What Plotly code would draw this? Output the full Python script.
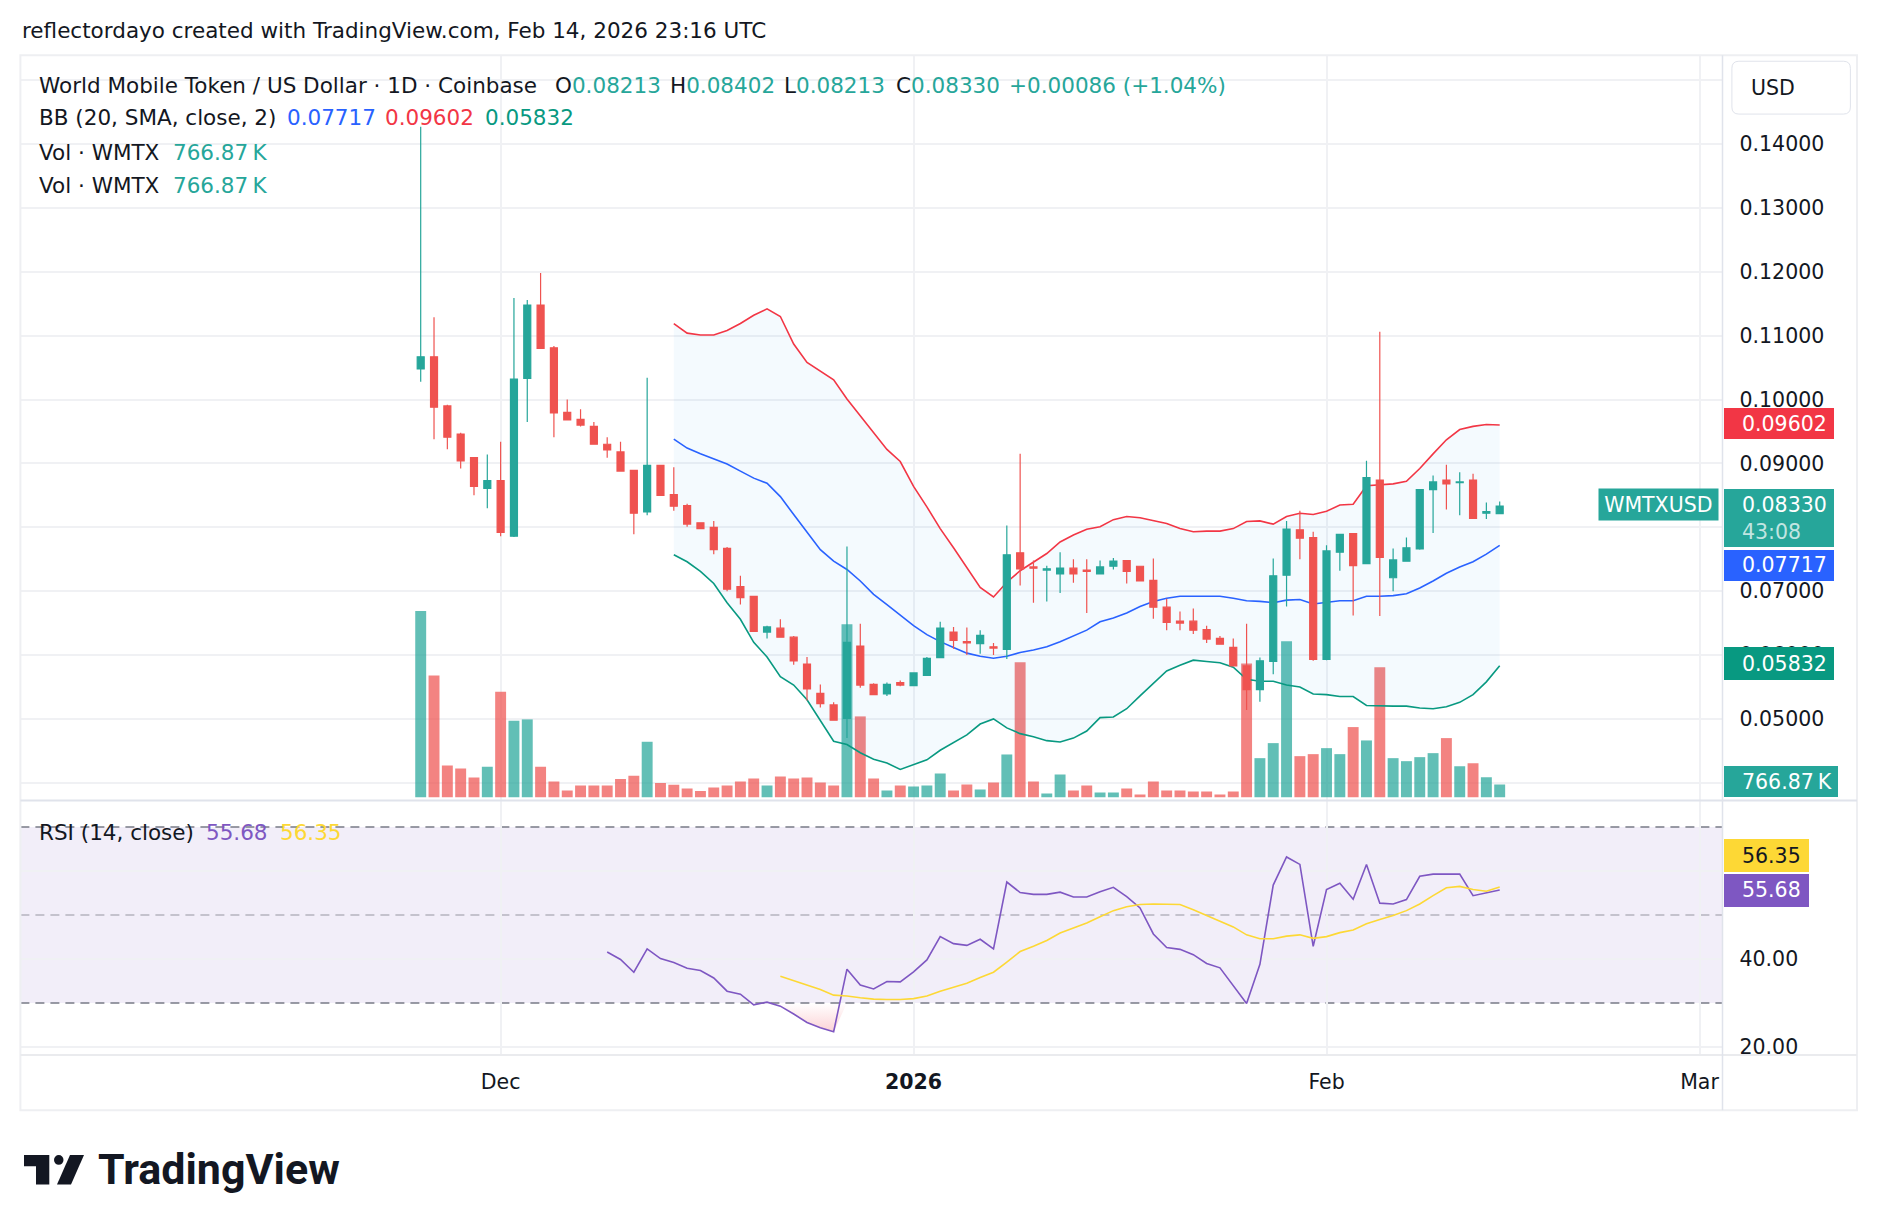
import plotly.graph_objects as go
import pandas as pd

# ---------------- data ----------------
dates = pd.date_range("2025-11-25", "2026-02-14", freq="D")

opens = [
    0.1048, 0.1067, 0.0990, 0.0946, 0.0909, 0.0861,
    0.0873, 0.0786, 0.1033, 0.1148, 0.1081, 0.0980, 0.0969, 0.0958, 0.0930, 0.0918,
    0.0889, 0.0824, 0.0897, 0.0851, 0.0834, 0.0807, 0.0800, 0.0767, 0.0707, 0.0692,
    0.0636, 0.0642, 0.0628, 0.0586, 0.0540, 0.0522, 0.0501, 0.0614, 0.0554, 0.0539, 0.0557,
    0.0552, 0.0568, 0.0596, 0.0636, 0.0621, 0.0618, 0.0613, 0.0609, 0.0760, 0.0738,
    0.0733, 0.0727, 0.0736, 0.0733, 0.0727, 0.0739, 0.0748, 0.0739, 0.0717, 0.0675,
    0.0653, 0.0653, 0.0640, 0.0626, 0.0612, 0.0583, 0.0546, 0.0590, 0.0725, 0.0796, 0.0784,
    0.0593, 0.0761, 0.0790, 0.0743, 0.0874, 0.0721, 0.0747, 0.0766, 0.0859, 0.0874,
    0.0870, 0.0874, 0.0822, 0.08213]
highs = [
    0.1427, 0.1129, 0.0992, 0.0948, 0.0909, 0.0914,
    0.0934, 0.1159, 0.1156, 0.1198, 0.1084, 0.1000, 0.0985, 0.0965, 0.0941, 0.0934,
    0.0889, 0.1034, 0.0897, 0.0894, 0.0837, 0.0808, 0.0810, 0.0769, 0.0724, 0.0692,
    0.0646, 0.0656, 0.0630, 0.0597, 0.0554, 0.0526, 0.0770, 0.0649, 0.0556, 0.0557, 0.0560,
    0.0573, 0.0597, 0.0652, 0.0644, 0.0643, 0.0639, 0.0619, 0.0803, 0.0915, 0.0748,
    0.0740, 0.0761, 0.0750, 0.0750, 0.0748, 0.0752, 0.0748, 0.0739, 0.0751, 0.0688,
    0.0668, 0.0673, 0.0646, 0.0630, 0.0626, 0.0649, 0.0596, 0.0751, 0.0810, 0.0826, 0.0793,
    0.0772, 0.0790, 0.0790, 0.0904, 0.1106, 0.0767, 0.0784, 0.0860, 0.0881, 0.0898,
    0.0886, 0.0884, 0.0839, 0.08402]
lows = [
    0.1028, 0.0938, 0.0922, 0.0892, 0.0850, 0.0830,
    0.0786, 0.0785, 0.0965, 0.1080, 0.0941, 0.0968, 0.0958, 0.0930, 0.0909, 0.0888,
    0.0789, 0.0819, 0.0850, 0.0826, 0.0801, 0.0798, 0.0758, 0.0700, 0.0679, 0.0637,
    0.0626, 0.0628, 0.0585, 0.0529, 0.0518, 0.0498, 0.0470, 0.0549, 0.0538, 0.0536, 0.0551,
    0.0552, 0.0568, 0.0596, 0.0610, 0.0600, 0.0602, 0.0600, 0.0594, 0.0709, 0.0682,
    0.0684, 0.0697, 0.0713, 0.0666, 0.0726, 0.0734, 0.0712, 0.0716, 0.0657, 0.0639,
    0.0639, 0.0633, 0.0619, 0.0616, 0.0583, 0.0514, 0.0527, 0.0570, 0.0676, 0.0750, 0.0591,
    0.0592, 0.0732, 0.0662, 0.0742, 0.0661, 0.0700, 0.0747, 0.0765, 0.0791, 0.0828,
    0.0819, 0.0814, 0.0813, 0.08213]
closes = [
    0.1067, 0.0988, 0.0941, 0.0904, 0.0864, 0.0873,
    0.0792, 0.1032, 0.1148, 0.1080, 0.0979, 0.0968, 0.0960, 0.0930, 0.0921, 0.0888,
    0.0822, 0.0897, 0.0850, 0.0833, 0.0805, 0.0798, 0.0765, 0.0703, 0.0690, 0.0637,
    0.0644, 0.0628, 0.0591, 0.0547, 0.0524, 0.0498, 0.0620, 0.0553, 0.0538, 0.0554, 0.0553,
    0.0572, 0.0595, 0.0642, 0.0623, 0.0619, 0.0631, 0.0611, 0.0757, 0.0735, 0.0736,
    0.0735, 0.0736, 0.0727, 0.0731, 0.0738, 0.0747, 0.0731, 0.0716, 0.0675, 0.0651,
    0.0650, 0.0639, 0.0625, 0.0617, 0.0583, 0.0546, 0.0591, 0.0724, 0.0797, 0.0783, 0.0593,
    0.0763, 0.0789, 0.0740, 0.0878, 0.0753, 0.0749, 0.0768, 0.0859, 0.0871, 0.0868,
    0.0871, 0.0814, 0.08244, 0.08330]
volumes_k = [
    11216, 7333, 1914, 1726, 1186, 1833,
    6363, 4610, 4691, 1833, 944, 404, 701, 701, 701, 1105,
    1294, 3343, 863, 755, 530, 370, 584, 705, 946, 1127,
    705, 1248, 1127, 1188, 886, 705, 10427, 4871, 1127, 403, 705,
    644, 705, 1429, 403, 765, 463, 886, 2577, 8133, 946,
    221, 1369, 403, 705, 282, 282, 523, 161, 946, 403,
    403, 342, 342, 161, 342, 8052, 2355, 3261, 9401, 2476, 2597,
    2959, 2597, 4227, 3422, 7831, 2355, 2174, 2416, 2657, 3563,
    1872, 2053, 1208, 766.87]

bb_dates = pd.date_range("2025-12-14", "2026-02-14", freq="D")
bb_upper = [
    0.1119, 0.1104, 0.1101, 0.1101, 0.1108, 0.1119, 0.1132, 0.1142, 0.1130, 0.1087,
    0.1058, 0.1045, 0.1031, 0.1001, 0.0975, 0.0949, 0.0922, 0.0903,
    0.0864, 0.0832, 0.0798, 0.0768, 0.0737, 0.0706, 0.0691, 0.0714, 0.0732, 0.0746,
    0.0759, 0.0777, 0.0788, 0.0797, 0.0801, 0.0812, 0.0817, 0.0815, 0.0811, 0.0806,
    0.0798, 0.0793, 0.0794, 0.0794, 0.0798, 0.0809, 0.0810, 0.0805, 0.0817, 0.0822, 0.0820,
    0.0825, 0.0835, 0.0836, 0.0865, 0.0866, 0.0868, 0.0872, 0.0892, 0.0915, 0.0937,
    0.0953, 0.0958, 0.0961, 0.09602]
bb_basis = [
    0.0938, 0.0924, 0.0915, 0.0907, 0.0899, 0.0888, 0.0877, 0.0869, 0.0848, 0.0820,
    0.0792, 0.0765, 0.0747, 0.0734, 0.0716, 0.0695, 0.0679, 0.0662,
    0.0646, 0.0632, 0.0621, 0.0612, 0.0603, 0.0598, 0.0595, 0.0598, 0.0604, 0.0608,
    0.0613, 0.0621, 0.0630, 0.0639, 0.0652, 0.0658, 0.0666, 0.0676, 0.0684, 0.0689,
    0.0692, 0.0692, 0.0692, 0.0692, 0.0689, 0.0685, 0.0684, 0.0682, 0.0686, 0.0687, 0.0680,
    0.0683, 0.0685, 0.0685, 0.0692, 0.0692, 0.0693, 0.0696, 0.0705, 0.0716, 0.0728,
    0.0738, 0.0746, 0.0758, 0.07717]
bb_lower = [
    0.0757, 0.0746, 0.0731, 0.0712, 0.0682, 0.0656, 0.0620, 0.0597, 0.0566, 0.0553,
    0.0530, 0.0498, 0.0465, 0.0460, 0.0447, 0.0437, 0.0431, 0.0421,
    0.0428, 0.0436, 0.0451, 0.0463, 0.0475, 0.0492, 0.0500, 0.0486, 0.0477, 0.0472,
    0.0466, 0.0464, 0.0470, 0.0481, 0.0502, 0.0503, 0.0516, 0.0536, 0.0555, 0.0575,
    0.0584, 0.0592, 0.0590, 0.0588, 0.0581, 0.0562, 0.0559, 0.0559, 0.0553, 0.0550, 0.0539,
    0.0538, 0.0535, 0.0535, 0.0521, 0.0520, 0.0520, 0.0520, 0.0517, 0.0516, 0.0519,
    0.0526, 0.0538, 0.0558, 0.05832]

rsi_dates = pd.date_range("2025-12-09", "2026-02-14", freq="D")
rsi = [
    41.6, 39.9, 37.0, 42.3, 40.1, 39.2, 37.9, 37.4, 35.7, 32.7, 32.0, 29.6,
    30.2, 29.3, 27.5, 25.6, 24.4, 23.5, 37.7, 34.1, 33.2, 34.9, 34.8,
    37.1, 39.8, 45.1, 43.5, 43.1, 44.5, 42.3, 57.5, 55.1, 54.7,
    54.7, 55.2, 54.1, 54.1, 55.3, 56.3, 54.2, 51.6, 45.7, 42.6,
    42.2, 41.0, 39.0, 38.0, 33.9, 29.9, 38.8, 56.8, 63.2, 61.5, 42.9,
    55.8, 57.2, 53.6, 61.5, 52.7, 52.5, 53.5, 58.8, 59.3, 59.3,
    59.3, 54.4, 55.0, 55.68]
rsi_ma_dates = pd.date_range("2025-12-22", "2026-02-14", freq="D")
rsi_ma = [
    36.1, 35.1, 34.1, 33.1, 31.8, 31.6, 31.2, 30.9, 30.8, 30.8,
    31.0, 31.6, 32.7, 33.6, 34.5, 35.8, 37.0, 39.3, 41.7, 42.9,
    44.2, 45.9, 47.0, 48.2, 49.6, 51.0, 51.9, 52.4, 52.5, 52.4,
    52.4, 51.2, 49.9, 48.7, 47.3, 45.5, 44.6, 44.6, 45.2, 45.5, 44.7,
    45.1, 46.0, 46.6, 48.0, 49.0, 49.9, 51.0, 52.5, 54.4, 56.2,
    56.5, 55.8, 55.4, 56.35]

tick_dates = ["2025-12-01", "2026-01-01", "2026-02-01", "2026-03-01"]
tick_text = ["Dec", "<b>2026</b>", "Feb", "Mar"]
price_ticks = [0.04, 0.05, 0.06, 0.07, 0.08, 0.09, 0.10, 0.11, 0.12, 0.13, 0.14, 0.15]
rsi_ticks = [20, 40, 60]
rsi_tick_text = ["20.00", "40.00", ""]

# ---------------- layout geometry (pixels of the 1878x1228 frame) ----------------
W, H = 1878, 1228
FIG_H = 1235            # page viewport appears slightly taller than the frame
def fx(x):
    return x / W
def fy(y):
    return 1 - y / H

PLOT_L, PLOT_R, FRAME_R = 20.4, 1722.5, 1857.0
TOP, SEP, RSI_BOT, FRAME_BOT = 55.0, 798.5, 1052.5, 1107.5

PX_PER_PRICE = 6372.0
P_REF, P_REF_PX = 0.14, 143.7
price_hi = P_REF + (P_REF_PX - TOP) / PX_PER_PRICE
price_lo = P_REF - (SEP - P_REF_PX) / PX_PER_PRICE

PX_PER_RSI = 4.39
R_REF, R_REF_PX = 40.0, 956.7
rsi_hi = R_REF + (R_REF_PX - SEP) / PX_PER_RSI
rsi_lo = R_REF - (RSI_BOT - R_REF_PX) / PX_PER_RSI

VOL_PER_PX = 60.4
VOL_BASE_PX = 795.3
vol_lo = -(SEP - VOL_BASE_PX) * VOL_PER_PX
vol_hi = vol_lo + (SEP - TOP) * VOL_PER_PX

DAY_PX = 13.32
DEC1_PX, MAR1_PX = 500.6, 1699.5
x_lo = pd.Timestamp("2025-12-01") - pd.Timedelta(days=(DEC1_PX - PLOT_L) / DAY_PX)
x_hi = pd.Timestamp("2026-03-01") + pd.Timedelta(days=(PLOT_R - MAR1_PX) / DAY_PX)

FONT = "DejaVu Sans"
FS_HEAD = 21.5
FS_AX = 20.5
TEXT = "#131722"
UP, DOWN = "#26a69a", "#ef5350"
UP_VOL, DOWN_VOL = "rgba(38,166,154,0.72)", "rgba(239,83,80,0.72)"
BB_UP, BB_MID, BB_LO = "#f23645", "#2962ff", "#089981"
RSI_C, RSI_MA_C = "#7e57c2", "#fdd835"
GRID = "#f0f1f4"
BORDER = "#e0e3eb"

fig = go.Figure()

vol_colors = [UP_VOL if c >= o else DOWN_VOL for o, c in zip(opens, closes)]
fig.add_trace(go.Bar(x=dates, y=volumes_k, marker=dict(color=vol_colors, line=dict(width=0)),
                     width=0.82 * 86400000, xaxis="x", yaxis="y", hoverinfo="skip"))

fig.add_trace(go.Scatter(x=bb_dates, y=bb_lower, mode="lines", line=dict(color=BB_LO, width=1.6),
                         xaxis="x", yaxis="y2", hoverinfo="skip"))
fig.add_trace(go.Scatter(x=bb_dates, y=bb_upper, mode="lines", line=dict(color=BB_UP, width=1.6),
                         fill="tonexty", fillcolor="rgba(33,150,243,0.05)",
                         xaxis="x", yaxis="y2", hoverinfo="skip"))
fig.add_trace(go.Scatter(x=bb_dates, y=bb_basis, mode="lines", line=dict(color=BB_MID, width=1.6),
                         xaxis="x", yaxis="y2", hoverinfo="skip"))

fig.add_trace(go.Candlestick(
    x=dates, open=opens, high=highs, low=lows, close=closes,
    increasing=dict(line=dict(color=UP, width=1.2), fillcolor=UP),
    decreasing=dict(line=dict(color=DOWN, width=1.2), fillcolor=DOWN),
    whiskerwidth=0, xaxis="x", yaxis="y3", hoverinfo="skip"))

os_idx = [i for i, d in enumerate(rsi_dates) if pd.Timestamp("2025-12-19") <= d <= pd.Timestamp("2025-12-27")]
os_dates = [rsi_dates[i] for i in os_idx]
fig.add_trace(go.Scatter(x=os_dates, y=[30] * len(os_dates), mode="lines", line=dict(width=0),
                         xaxis="x2", yaxis="y4", hoverinfo="skip"))
fig.add_trace(go.Scatter(x=os_dates, y=[min(rsi[i], 30) for i in os_idx], mode="lines", line=dict(width=0),
                         fill="tonexty",
                         fillgradient=dict(type="vertical",
                                           colorscale=[[0, "rgba(242,54,69,0.22)"], [1, "rgba(242,54,69,0.0)"]]),
                         xaxis="x2", yaxis="y4", hoverinfo="skip"))
fig.add_trace(go.Scatter(x=rsi_dates, y=rsi, mode="lines", line=dict(color=RSI_C, width=1.6),
                         xaxis="x2", yaxis="y4", hoverinfo="skip"))
fig.add_trace(go.Scatter(x=rsi_ma_dates, y=rsi_ma, mode="lines", line=dict(color=RSI_MA_C, width=1.6),
                         xaxis="x2", yaxis="y4", hoverinfo="skip"))

tickfont = dict(family=FONT, size=FS_AX, color=TEXT)
xdom = [fx(PLOT_L), fx(PLOT_R)]
fig.update_layout(
    width=W, height=FIG_H, autosize=False,
    margin=dict(l=0, r=0, t=0, b=0),
    paper_bgcolor="white", plot_bgcolor="white",
    showlegend=False, hovermode=False, dragmode=False,
    boxgap=0.25,
    xaxis=dict(domain=xdom, anchor="y", type="date", range=[x_lo, x_hi],
               tickvals=tick_dates, showticklabels=False, ticks="",
               showgrid=True, gridcolor=GRID, gridwidth=1.5, zeroline=False, showline=False,
               rangeslider=dict(visible=False), fixedrange=True),
    yaxis=dict(domain=[fy(SEP), fy(TOP)], anchor="x", range=[vol_lo, vol_hi],
               visible=False, showgrid=False, fixedrange=True),
    yaxis2=dict(overlaying="y", anchor="x", side="right", range=[price_lo, price_hi],
                tickvals=price_ticks, tickformat=".5f", tickfont=tickfont, ticks="",
                ticklabelstandoff=16,
                showgrid=True, gridcolor=GRID, gridwidth=1.5, zeroline=False, showline=False,
                fixedrange=True),
    yaxis3=dict(overlaying="y", anchor="x", side="right", range=[price_lo, price_hi],
                visible=False, showgrid=False, fixedrange=True),
    xaxis2=dict(domain=xdom, anchor="y4", type="date", range=[x_lo, x_hi],
                tickvals=tick_dates, ticktext=tick_text, tickfont=tickfont, ticks="",
                ticklabelstandoff=12,
                showgrid=True, gridcolor=GRID, gridwidth=1.5, zeroline=False, showline=False,
                fixedrange=True),
    yaxis4=dict(domain=[fy(RSI_BOT), fy(SEP)], anchor="x2", side="right", range=[rsi_lo, rsi_hi],
                tickvals=rsi_ticks, ticktext=rsi_tick_text, tickfont=tickfont, ticks="",
                ticklabelstandoff=16,
                showgrid=True, gridcolor=GRID, gridwidth=1.5, zeroline=False, showline=False,
                fixedrange=True),
)

# ---------------- shapes ----------------
shapes = []
shapes.append(dict(type="rect", xref="paper", yref="y4", x0=fx(PLOT_L), x1=fx(PLOT_R), y0=30, y1=70,
                   fillcolor="rgba(126,87,194,0.1)", line=dict(width=0), layer="below"))
for lvl, col in [(70, "#787b86"), (30, "#787b86"), (50, "rgba(120,123,134,0.5)")]:
    shapes.append(dict(type="line", xref="paper", yref="y4", x0=fx(PLOT_L), x1=fx(PLOT_R), y0=lvl, y1=lvl,
                       line=dict(color=col, width=1.5, dash="9px,6px"), layer="between"))
shapes.append(dict(type="rect", xref="paper", yref="paper", x0=fx(PLOT_L), x1=fx(FRAME_R),
                   y0=fy(FRAME_BOT), y1=fy(TOP), line=dict(color="#eeeff2", width=2), layer="above"))
shapes.append(dict(type="line", xref="paper", yref="paper", x0=fx(PLOT_L), x1=fx(FRAME_R),
                   y0=fy(SEP), y1=fy(SEP), line=dict(color=BORDER, width=2), layer="above"))
shapes.append(dict(type="line", xref="paper", yref="paper", x0=fx(PLOT_L), x1=fx(FRAME_R),
                   y0=fy(RSI_BOT), y1=fy(RSI_BOT), line=dict(color="#eaebee", width=2), layer="above"))
shapes.append(dict(type="line", xref="paper", yref="paper", x0=fx(PLOT_R), x1=fx(PLOT_R),
                   y0=fy(FRAME_BOT), y1=fy(TOP), line=dict(color=BORDER, width=1.5), layer="above"))


def P(x, y):
    return f"{fx(x):.6f},{fy(y):.6f}"


def rr_path(x0, y0, x1, y1, r):
    return (f"M{P(x0 + r, y0)} L{P(x1 - r, y0)} Q{P(x1, y0)} {P(x1, y0 + r)} "
            f"L{P(x1, y1 - r)} Q{P(x1, y1)} {P(x1 - r, y1)} L{P(x0 + r, y1)} "
            f"Q{P(x0, y1)} {P(x0, y1 - r)} L{P(x0, y0 + r)} Q{P(x0, y0)} {P(x0 + r, y0)} Z")


shapes.append(dict(type="path", xref="paper", yref="paper", path=rr_path(1731.9, 61.1, 1850.4, 113.8, 7),
                   line=dict(color=BORDER, width=1), fillcolor="white", layer="above"))

# TradingView logo mark
shapes.append(dict(type="path", xref="paper", yref="paper",
                   path=f"M{P(24, 1152.3)} L{P(49.3, 1152.3)} L{P(49.3, 1181.7)} L{P(36, 1181.7)} "
                        f"L{P(36, 1163.5)} L{P(24, 1163.5)} Z",
                   fillcolor="#131722", line=dict(width=0), layer="above"))
shapes.append(dict(type="circle", xref="paper", yref="paper",
                   x0=fx(54), x1=fx(63.5), y0=fy(1162), y1=fy(1152.3),
                   fillcolor="#131722", line=dict(width=0), layer="above"))
shapes.append(dict(type="path", xref="paper", yref="paper",
                   path=f"M{P(57, 1181.7)} L{P(70, 1152.3)} L{P(84, 1152.3)} L{P(71, 1181.7)} Z",
                   fillcolor="#131722", line=dict(width=0), layer="above"))

fig.update_layout(shapes=shapes)

# ---------------- annotations ----------------
anns = []


def T(text, x_px, y_px, color=TEXT, size=FS_HEAD, anchor="left", family=FONT):
    anns.append(dict(text=text, x=fx(x_px), y=fy(y_px), xref="paper", yref="paper",
                     xanchor=anchor, yanchor="middle", showarrow=False,
                     font=dict(family=family, size=size, color=color)))


def span(txt, col):
    return f"<span style='color:{col}'>{txt}</span>"


T("reflectordayo created with TradingView.com, Feb 14, 2026 23:16 UTC", 20.4, 30)
last_col = UP if closes[-1] >= opens[-1] else DOWN
T("World Mobile Token / US Dollar · 1D · Coinbase", 36.5, 85)
T("O" + span(f"{opens[-1]:.5f}", last_col), 553.3, 85)
T("H" + span(f"{highs[-1]:.5f}", last_col), 668.3, 85)
T("L" + span(f"{lows[-1]:.5f}", last_col), 782.1, 85)
T("C" + span(f"{closes[-1]:.5f}", last_col), 893.5, 85)
chg = closes[-1] - closes[-2]
T(span(f"{chg:+.5f} ({chg / closes[-2] * 100:+.2f}%)", last_col), 1007.3, 85)

T("BB (20, SMA, close, 2)", 36.5, 117.5)
T(f"{bb_basis[-1]:.5f}", 284.5, 117.5, BB_MID)
T(f"{bb_upper[-1]:.5f}", 383.0, 117.5, BB_UP)
T(f"{bb_lower[-1]:.5f}", 482.5, 117.5, BB_LO)

vol_txt = f"{volumes_k[-1]:.2f}\u2009K"
for yy in (152.0, 185.5):
    T("Vol · WMTX", 36.5, yy)
    T(vol_txt, 171.3, yy, UP)

T("RSI (14, close)", 36.5, 830)
T(f"{rsi[-1]:.2f}", 203.6, 830, RSI_C)
T(f"{rsi_ma[-1]:.2f}", 277.9, 830, RSI_MA_C)

T("USD", 1748.6, 87.4, size=FS_AX)

anns.append(dict(text="<b>TradingView</b>", x=fx(95.5), y=fy(1166), xref="paper", yref="paper",
                 xanchor="left", yanchor="middle", showarrow=False,
                 font=dict(family="Roboto", size=43, color="#131722")))

LBL_X = 1724.2


def box(value, yref, bg, width, height, shift, anchor="middle", x_px=LBL_X):
    anns.append(dict(text="\u00a0", x=fx(x_px), y=value, xref="paper", yref=yref,
                     xanchor="left", yanchor=anchor, yshift=shift, showarrow=False,
                     width=width, height=height, bgcolor=bg, borderpad=0, borderwidth=0,
                     font=dict(family=FONT, size=FS_AX, color="white")))


def ltext(text, value, yref, color, shift, x_px=1739.5):
    anns.append(dict(text=text, x=fx(x_px), y=value, xref="paper", yref=yref,
                     xanchor="left", yanchor="middle", yshift=shift, showarrow=False,
                     font=dict(family=FONT, size=FS_AX, color=color)))


box(bb_upper[-1], "y2", BB_UP, 110, 31, 1)
ltext(f"{bb_upper[-1]:.5f}", bb_upper[-1], "y2", "white", 1)

box(closes[-1], "y2", UP, 110, 57.5, 17.5, anchor="top")
ltext(f"{closes[-1]:.5f}", closes[-1], "y2", "white", 1)
ltext("43:08", closes[-1], "y2", "rgba(255,255,255,0.72)", -26)

box(bb_basis[-1], "y2", BB_MID, 110, 31, -20)
ltext(f"{bb_basis[-1]:.5f}", bb_basis[-1], "y2", "white", -20)

box(bb_lower[-1], "y2", BB_LO, 110, 33, 2)
ltext(f"{bb_lower[-1]:.5f}", bb_lower[-1], "y2", "white", 2)

box(volumes_k[-1], "y", UP, 113.8, 31, 3)
ltext(vol_txt, volumes_k[-1], "y", "white", 3)

box(rsi_ma[-1], "y4", RSI_MA_C, 85, 33, 31.5)
ltext(f"{rsi_ma[-1]:.2f}", rsi_ma[-1], "y4", TEXT, 31.5)
box(rsi[-1], "y4", RSI_C, 85, 33, 0)
ltext(f"{rsi[-1]:.2f}", rsi[-1], "y4", "white", 0)

anns.append(dict(text="WMTXUSD", x=fx(1597.7), y=closes[-1], xref="paper", yref="y2",
                 xanchor="left", yanchor="middle", yshift=2, showarrow=False,
                 width=118.6, height=31, bgcolor=UP, borderpad=0,
                 font=dict(family=FONT, size=FS_AX, color="white")))

fig.update_layout(annotations=anns)

fig.write_html("out.html", config={"displayModeBar": False})
